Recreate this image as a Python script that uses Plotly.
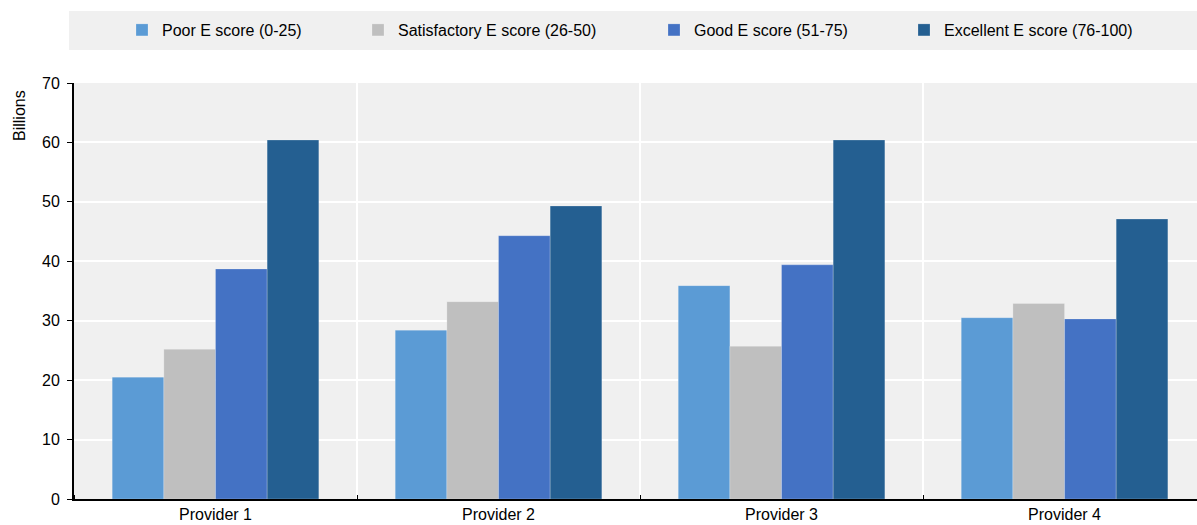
import plotly.graph_objects as go

categories = ["Provider 1", "Provider 2", "Provider 3", "Provider 4"]
series_names = ["Poor E score (0-25)", "Satisfactory E score (26-50)",
                "Good E score (51-75)", "Excellent E score (76-100)"]
poor = [20.5, 28.4, 35.9, 30.5]
satisfactory = [25.2, 33.2, 25.7, 32.9]
good = [38.7, 44.3, 39.4, 30.3]
excellent = [60.4, 49.3, 60.4, 47.1]
colors = ["#5b9bd5", "#bfbfbf", "#4472c4", "#245f91"]
y_ticks = [0, 10, 20, 30, 40, 50, 60, 70]

FONT = "Liberation Sans Narrow, Arial Narrow, Liberation Sans, Arial, sans-serif"
FS = 16
xpos = list(range(len(categories)))

# plot-area geometry (pixels)
L, T, R, B, W, H = 74, 83, 0, 26, 1197, 525
PW, PH = W - L - R, H - T - B


def px(x):
    return (x - L) / PW


def py(y):
    return (H - B - y) / PH


legend_text_x = [162, 398, 694, 944]
legend_names = ["legend", "legend2", "legend3", "legend4"]

fig = go.Figure()
for i, (name, vals, col) in enumerate(zip(series_names, [poor, satisfactory, good, excellent], colors)):
    fig.add_trace(go.Bar(x=xpos, y=vals, name=name, legend=legend_names[i],
                         marker=dict(color=col, line=dict(color="rgba(255,255,255,0.35)", width=0.6))))

layout_legends = {}
for i, ln in enumerate(legend_names):
    layout_legends[ln] = dict(orientation="h", x=px(legend_text_x[i] - 40), xanchor="left",
                              y=py(30), yanchor="middle", bgcolor="rgba(0,0,0,0)",
                              borderwidth=0, font=dict(family=FONT, size=FS, color="black"),
                              itemwidth=30)

fig.update_layout(
    width=W, height=H,
    margin=dict(l=L, r=R, t=T, b=B),
    paper_bgcolor="white", plot_bgcolor="#f0f0f0",
    barmode="group", bargap=0.27, bargroupgap=0,
    font=dict(family=FONT, size=FS, color="black"),
    showlegend=True,
    shapes=[dict(type="rect", xref="paper", yref="paper", x0=px(69), x1=1.0,
                 y0=py(50), y1=py(11), fillcolor="#f0f0f0", line=dict(width=0), layer="below")],
    annotations=[dict(text="Billions", xref="paper", yref="paper", x=px(19), y=py(116),
                      textangle=-90, showarrow=False, xanchor="center", yanchor="middle",
                      font=dict(family=FONT, size=FS))],
    **layout_legends,
)
fig.update_xaxes(range=[-0.5, 3.468], tickvals=xpos, ticktext=categories,
                 showgrid=False, ticks="", showline=True, linecolor="black", linewidth=2,
                 zeroline=False,
                 minor=dict(tick0=0.5, dtick=1, showgrid=True, gridcolor="white", gridwidth=2,
                            ticks="inside", ticklen=4, tickcolor="black"))
fig.update_yaxes(range=[0, 70], tickvals=y_ticks, showgrid=True, gridcolor="white", gridwidth=2,
                 ticks="outside", ticklen=5, tickcolor="black", showline=True, linecolor="black",
                 linewidth=2, zeroline=False, ticklabelstandoff=4)

fig.write_html("out.html", config={"displayModeBar": False},
               post_script="document.body.style.margin='0';")
